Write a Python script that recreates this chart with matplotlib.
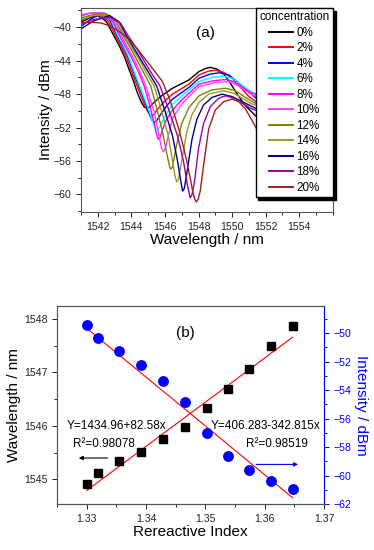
import matplotlib
matplotlib.use('Agg')
import matplotlib.pyplot as plt
from matplotlib.ticker import MultipleLocator

plt.rcParams['font.family'] = ['Liberation Sans', 'DejaVu Sans']

# ---- panel (a): transmission spectra ----
conc_labels = ['0%', '2%', '4%', '6%', '8%', '10%', '12%', '14%', '16%', '18%', '20%']
curve_colors = ['#000000', '#ff0000', '#0000ff', '#00ffff', '#ff00ff', '#ff40ff',
                '#808000', '#9a9a2a', '#000090', '#a000a0', '#a02020']

curve_wl = [
    [1541.0, 1541.5, 1542.0, 1542.5, 1542.95, 1543.3, 1543.6, 1543.85, 1544.1, 1544.35, 1544.6, 1544.75, 1544.9,
     1545.1, 1545.4, 1545.8, 1546.45, 1547.43, 1548.03, 1548.4, 1548.7, 1549.1, 1549.5, 1549.9, 1550.3, 1550.8, 1551.5],
    [1541.0, 1541.5, 1542.1, 1542.6, 1543.05, 1543.4, 1543.7, 1543.95, 1544.2, 1544.45, 1544.7, 1544.95, 1545.1,
     1545.2, 1545.35, 1545.6, 1546.0, 1546.45, 1547.43, 1548.03, 1548.6, 1549.0, 1549.5, 1550.0, 1550.5, 1551.0, 1551.5],
    [1541.0, 1541.6, 1542.2, 1542.7, 1543.15, 1543.5, 1543.8, 1544.05, 1544.3, 1544.55, 1544.8, 1545.05, 1545.22,
     1545.35, 1545.5, 1545.75, 1546.1, 1546.45, 1547.43, 1548.03, 1548.7, 1549.25, 1549.8, 1550.3, 1550.8, 1551.2, 1551.5],
    [1541.0, 1541.6, 1542.2, 1542.8, 1543.2, 1543.55, 1543.85, 1544.1, 1544.35, 1544.6, 1544.85, 1545.1, 1545.3,
     1545.45, 1545.55, 1545.7, 1545.95, 1546.45, 1547.43, 1548.03, 1548.8, 1549.45, 1550.0, 1550.5, 1550.9, 1551.2, 1551.5],
    [1541.0, 1541.6, 1542.3, 1542.9, 1543.3, 1543.7, 1544.1, 1544.45, 1544.75, 1545.05, 1545.3, 1545.5, 1545.6,
     1545.72, 1545.9, 1546.1, 1546.45, 1547.0, 1547.43, 1548.03, 1548.9, 1549.65, 1550.2, 1550.7, 1551.1, 1551.5],
    [1541.0, 1541.6, 1542.4, 1543.0, 1543.4, 1543.8, 1544.2, 1544.55, 1544.85, 1545.1, 1545.35, 1545.65, 1545.8,
     1545.9, 1546.0, 1546.2, 1546.45, 1547.0, 1547.43, 1548.03, 1549.0, 1549.8, 1550.3, 1550.8, 1551.2, 1551.5],
    [1541.0, 1541.7, 1542.5, 1543.1, 1543.5, 1543.95, 1544.35, 1544.75, 1545.15, 1545.55, 1545.9, 1546.15, 1546.28,
     1546.35, 1546.45, 1546.7, 1547.0, 1547.43, 1548.03, 1548.8, 1549.6, 1550.2, 1550.8, 1551.2, 1551.5],
    [1541.0, 1541.7, 1542.6, 1543.2, 1543.6, 1544.05, 1544.5, 1544.9, 1545.35, 1545.8, 1546.2, 1546.45, 1546.6,
     1546.7, 1546.8, 1547.0, 1547.3, 1547.6, 1548.03, 1548.6, 1549.5, 1550.1, 1550.7, 1551.1, 1551.5],
    [1541.0, 1541.7, 1542.7, 1543.3, 1543.7, 1544.15, 1544.6, 1545.05, 1545.5, 1546.0, 1546.45, 1546.75, 1546.95,
     1547.05, 1547.15, 1547.3, 1547.6, 1547.9, 1548.3, 1548.8, 1549.4, 1550.0, 1550.6, 1551.1, 1551.5],
    [1541.0, 1541.7, 1542.7, 1543.35, 1543.8, 1544.3, 1544.75, 1545.2, 1545.7, 1546.25, 1546.75, 1547.1, 1547.35,
     1547.5, 1547.6, 1547.75, 1548.0, 1548.3, 1548.7, 1549.2, 1549.6, 1550.1, 1550.7, 1551.1, 1551.5],
    [1541.0, 1541.6, 1542.2, 1542.8, 1543.4, 1543.9, 1544.4, 1544.9, 1545.4, 1545.85, 1546.3, 1546.84, 1547.1,
     1547.33, 1547.5, 1547.65, 1547.78, 1547.86, 1547.97, 1548.1, 1548.3, 1548.6, 1549.0, 1549.5, 1550.0, 1550.4,
     1550.8, 1551.2, 1551.5],
]
curve_dbm = [
    [-39.4, -38.9, -38.6, -39.3, -41.0, -42.3, -43.6, -45.0, -46.3, -47.8, -49.0, -49.5, -49.7,
     -49.5, -48.9, -48.2, -47.3, -46.3, -45.3, -44.95, -44.8, -45.0, -45.6, -46.7, -48.0, -49.4, -50.8],
    [-39.2, -38.8, -38.5, -39.2, -41.0, -42.3, -43.6, -45.0, -46.3, -47.6, -48.9, -50.0, -50.45,
     -50.6, -50.4, -49.7, -48.8, -48.0, -46.8, -45.7, -45.25, -45.15, -45.4, -46.1, -47.2, -48.3, -49.0],
    [-39.9, -39.0, -38.4, -39.1, -41.0, -42.3, -43.6, -45.0, -46.3, -47.6, -48.9, -50.3, -51.1,
     -51.4, -51.2, -50.4, -49.4, -48.6, -47.2, -46.1, -45.6, -45.45, -45.7, -46.5, -47.4, -48.1, -48.6],
    [-38.7, -38.3, -38.3, -39.2, -41.0, -42.3, -43.6, -45.0, -46.3, -47.6, -48.9, -50.3, -51.5,
     -52.2, -52.3, -51.9, -50.8, -49.2, -47.5, -46.5, -46.0, -45.85, -46.1, -46.8, -47.4, -47.8, -48.0],
    [-38.6, -38.3, -38.3, -39.3, -41.0, -42.5, -44.0, -45.5, -47.0, -49.0, -51.0, -52.8, -53.4,
     -53.1, -52.0, -51.0, -49.9, -48.7, -47.9, -46.8, -46.4, -46.25, -46.6, -47.3, -47.8, -48.1],
    [-38.5, -38.3, -38.3, -39.3, -41.0, -42.5, -44.0, -45.5, -47.0, -48.5, -50.0, -53.0, -54.5,
     -54.9, -54.6, -53.0, -50.9, -49.2, -48.3, -47.1, -46.6, -46.5, -46.9, -47.6, -48.1, -48.3],
    [-38.9, -38.5, -38.4, -39.3, -41.0, -42.5, -44.0, -45.5, -47.0, -50.0, -53.0, -55.5, -56.7,
     -57.0, -56.7, -54.0, -51.5, -49.6, -48.2, -47.5, -47.3, -47.6, -48.4, -48.9, -49.2],
    [-39.1, -38.6, -38.5, -39.3, -41.0, -42.5, -44.0, -45.5, -47.0, -50.0, -53.0, -56.0, -57.8,
     -58.5, -58.2, -56.0, -52.5, -50.5, -49.0, -48.0, -47.6, -47.9, -48.6, -49.1, -49.4],
    [-40.2, -39.3, -38.6, -39.4, -41.0, -42.5, -44.0, -45.5, -47.0, -50.0, -53.0, -56.0, -58.5,
     -59.6, -59.3, -57.5, -53.5, -51.0, -49.3, -48.4, -48.0, -48.3, -48.9, -49.4, -49.8],
    [-39.6, -39.1, -38.8, -39.5, -41.0, -42.5, -44.0, -45.5, -47.0, -50.0, -53.0, -56.0, -59.0,
     -60.4, -60.1, -58.6, -54.5, -51.5, -49.5, -48.5, -48.2, -48.5, -49.2, -49.7, -50.0],
    [-39.5, -39.4, -39.5, -39.9, -40.7, -41.5, -42.7, -44.0, -45.3, -46.5, -48.7, -52.3, -54.3,
     -56.3, -58.0, -59.6, -60.6, -60.9, -60.6, -59.6, -56.5, -52.2, -49.9, -48.9, -48.6, -48.9,
     -49.8, -51.2, -52.3],
]

# ---- panel (b): dip wavelength / dip intensity vs refractive index ----
ref_index = [1.3300, 1.3319, 1.3355, 1.3392, 1.3429, 1.3466, 1.3502, 1.3538, 1.3574, 1.3611, 1.3647]
dip_wl = [1544.91, 1545.12, 1545.35, 1545.52, 1545.75, 1545.98, 1546.34, 1546.69, 1547.06, 1547.49, 1547.86]
dip_dbm = [-49.44, -50.38, -51.23, -52.26, -53.33, -54.87, -57.04, -58.60, -59.64, -60.41, -60.97]
fit_wl = (1434.96, 82.58)
fit_dbm = (406.283, -342.815)

fig = plt.figure(figsize=(3.74, 5.5), dpi=100)
spine_c = '#555555'

# ---------------- (a) ----------------
ax = fig.add_axes([0.2166, 0.6145, 0.6734, 0.371])
for wl, p, lab, c in zip(curve_wl, curve_dbm, conc_labels, curve_colors):
    ax.plot(wl, p, color=c, lw=1.0, label=lab)
ax.set_xlim(1541, 1556)
ax.set_ylim(-62.1, -37.7)
ax.xaxis.set_major_locator(MultipleLocator(2))
ax.xaxis.set_minor_locator(MultipleLocator(1))
ax.yaxis.set_major_locator(MultipleLocator(4))
ax.yaxis.set_minor_locator(MultipleLocator(2))
ax.set_xticks([1542, 1544, 1546, 1548, 1550, 1552, 1554])
ax.set_xlabel('Wavelength / nm', fontsize=11, labelpad=1)
ax.set_ylabel('Intensity / dBm', fontsize=11, labelpad=0.5)
ax.text(1548.4, -40.7, '(a)', fontsize=11, ha='center', va='center')
leg = ax.legend(title='concentration', loc='upper right', fontsize=8.4, title_fontsize=8.4,
                frameon=True, fancybox=False, edgecolor='black', framealpha=1,
                shadow={'color': 'black', 'alpha': 1}, borderaxespad=0,
                handlelength=2.1, labelspacing=0.3, handletextpad=0.3, borderpad=0.3)
for line in leg.get_lines():
    line.set_linewidth(1.4)

# ---------------- (b) ----------------
bx = fig.add_axes([0.1524, 0.0836, 0.7139, 0.36])
bx2 = bx.twinx()
x_fit = [ref_index[0], ref_index[-1]]
bx.plot(x_fit, [fit_wl[0] + fit_wl[1] * v for v in x_fit], color='red', lw=0.8, zorder=2)
bx.plot(ref_index, dip_wl, 's', color='black', ms=5.5, zorder=3)
bx2.plot(x_fit, [fit_dbm[0] + fit_dbm[1] * v for v in x_fit], color='red', lw=0.8, zorder=2)
bx2.plot(ref_index, dip_dbm, 'o', color='blue', ms=6.8, zorder=3)

bx.set_xlim(1.325, 1.37)
bx.set_ylim(1544.54, 1548.24)
bx2.set_ylim(-62, -48.1)
bx.xaxis.set_major_locator(MultipleLocator(0.01))
bx.xaxis.set_minor_locator(MultipleLocator(0.005))
bx.yaxis.set_major_locator(MultipleLocator(1))
bx.yaxis.set_minor_locator(MultipleLocator(0.5))
bx2.yaxis.set_major_locator(MultipleLocator(2))
bx2.yaxis.set_minor_locator(MultipleLocator(1))
bx.set_xticks([1.33, 1.34, 1.35, 1.36, 1.37])
bx.set_xticklabels(['1.33', '1.34', '1.35', '1.36', '1.37'])
bx.set_xlabel('Rereactive Index', fontsize=11, labelpad=1)
bx.set_ylabel('Wavelength / nm', fontsize=11, labelpad=2)
bx2.set_ylabel('Intensity / dBm', fontsize=11, color='blue', rotation=270, labelpad=12)

bx.text(1.3466, 1547.74, '(b)', fontsize=11, ha='center', va='center')
bx.text(1.3267, 1546.0, 'Y=1434.96+82.58x', fontsize=8.5, va='center')
bx.text(1.3277, 1545.66, 'R²=0.98078', fontsize=8.5, va='center')
bx.text(1.3509, 1546.0, 'Y=406.283-342.815x', fontsize=8.5, va='center')
bx.text(1.3568, 1545.66, 'R²=0.98519', fontsize=8.5, va='center')
bx.annotate('', xy=(1.3282, 1545.4), xytext=(1.3340, 1545.4),
            arrowprops=dict(arrowstyle='-|>', color='black', lw=0.8, mutation_scale=6))
bx.annotate('', xy=(1.3661, 1545.28), xytext=(1.3581, 1545.28),
            arrowprops=dict(arrowstyle='-|>', color='blue', lw=0.8, mutation_scale=6))

# common styling
for a in (ax, bx, bx2):
    for s in a.spines.values():
        s.set_color(spine_c)
        s.set_linewidth(0.8)
    a.tick_params(which='both', direction='out', labelsize=7.6, colors='#222222', width=0.7)
    a.tick_params(which='major', length=3.5)
    a.tick_params(which='minor', length=2)
bx2.spines['right'].set_color('blue')
bx2.tick_params(axis='y', which='both', colors='blue', labelcolor='blue')

fig.savefig('out.png', dpi=100)
